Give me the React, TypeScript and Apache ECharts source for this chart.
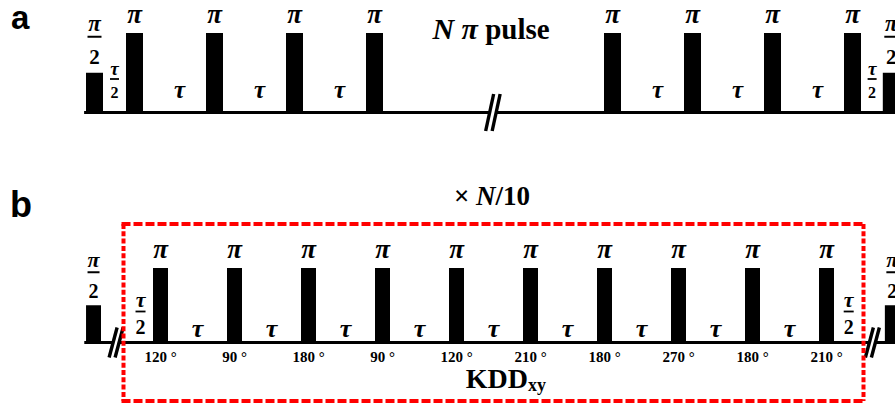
import { useEffect, useRef } from 'react';
import * as echarts from 'echarts';

// ---- (a) N π-pulse train, times in units of τ ----
const trainTimes = [0, 0.5, 1.5, 2.5, 3.5, 6.475, 7.475, 8.475, 9.475, 9.96];
const trainAmps = [1, 2, 2, 2, 2, 2, 2, 2, 2, 1]; // 1 = π/2 pulse, 2 = π pulse
const trainDelayTimes = [0.25, 1, 2, 3, 6.975, 7.975, 8.975, 9.72];
const trainDelayLabels = ['τ/2', 'τ', 'τ', 'τ', 'τ', 'τ', 'τ', 'τ/2'];
const trainBreaks = [4.98];
const trainSpan = [-0.13, 10.01];

// ---- (b) KDDxy block, repeated N/10 times ----
const kddTimes = [-0.905, 0, 1, 2, 3, 4, 5, 6, 7, 8, 9, 9.89];
const kddAmps = [1, 2, 2, 2, 2, 2, 2, 2, 2, 2, 2, 1];
const kddPhases = [null, 120, 90, 180, 90, 120, 210, 180, 270, 180, 210, null];
const kddDelayTimes = [-0.27, 0.5, 1.5, 2.5, 3.5, 4.5, 5.5, 6.5, 7.5, 8.5, 9.3];
const kddDelayLabels = ['τ/2', 'τ', 'τ', 'τ', 'τ', 'τ', 'τ', 'τ', 'τ', 'τ', 'τ/2'];
const kddBreaks = [-0.6, 9.62];
const kddSpan = [-1.03, 10.0];
const kddBlock = [-0.5, 9.5];

const SERIF = '"Liberation Serif", "Times New Roman", serif';
const SANS = '"Liberation Sans", Arial, sans-serif';
const BLACK = '#000000';
const RED = '#ff0000';

type Style = {
  pulseW: number;
  piSize: number;
  piDy: number;
  frac: { piSize: number; piDy: number; lineDy: number; lineW: number; twoSize: number; twoDy: number };
  tauSize: number;
  tauDy: number;
  tauDx: number;
  halfTau: { tauSize: number; tauDy: number; lineDy: number; lineW: number; twoSize: number; twoDy: number };
  brk: { h: number; dx: number; sep: number };
};

const styleA: Style = {
  pulseW: 17,
  piSize: 27,
  piDy: -19,
  frac: { piSize: 23, piDy: -49, lineDy: -36, lineW: 14, twoSize: 21, twoDy: -16 },
  tauSize: 25,
  tauDy: -23,
  tauDx: 5,
  halfTau: { tauSize: 19, tauDy: -44, lineDy: -33.5, lineW: 9, twoSize: 16, twoDy: -20.5 },
  brk: { h: 18.5, dx: 8, sep: 6.5 },
};

const styleB: Style = {
  pulseW: 15,
  piSize: 27,
  piDy: -19,
  frac: { piSize: 22, piDy: -46, lineDy: -33, lineW: 12, twoSize: 20, twoDy: -14 },
  tauSize: 26,
  tauDy: -14,
  tauDx: 0,
  halfTau: { tauSize: 22, tauDy: -43, lineDy: -31, lineW: 10, twoSize: 20, twoDy: -16 },
  brk: { h: 15, dx: 8, sep: 6 },
};

const txt = (x: number, y: number, text: string, size: number, italic: boolean, align = 'center') => ({
  type: 'text',
  style: {
    text,
    x,
    y,
    fill: BLACK,
    font: `${italic ? 'italic ' : ''}bold ${size}px ${SERIF}`,
    align,
    verticalAlign: 'middle',
  },
});

const hline = (cx: number, y: number, w: number, lw = 1.6) => ({
  type: 'line',
  shape: { x1: cx - w / 2, y1: y, x2: cx + w / 2, y2: y },
  style: { stroke: BLACK, lineWidth: lw },
});

function makeBaseline() {
  return (_p: any, api: any) => {
    const a = api.coord([api.value(0), 0]);
    const b = api.coord([api.value(1), 0]);
    return {
      type: 'line',
      shape: { x1: a[0], y1: a[1], x2: b[0], y2: b[1] },
      style: { stroke: BLACK, lineWidth: 3 },
    };
  };
}

function makeBreaks(s: Style) {
  return (_p: any, api: any) => {
    const c = api.coord([api.value(0), 0]);
    const { h, dx, sep } = s.brk;
    const slash = (cx: number) => ({
      type: 'line',
      shape: { x1: cx - dx / 2, y1: c[1] + h, x2: cx + dx / 2, y2: c[1] - h },
      style: { stroke: BLACK, lineWidth: 3.4 },
    });
    return {
      type: 'group',
      children: [
        { type: 'rect', shape: { x: c[0] - sep / 2, y: c[1] - 2.5, width: sep, height: 5 }, style: { fill: '#ffffff' } },
        slash(c[0] - sep / 2),
        slash(c[0] + sep / 2),
      ],
    };
  };
}

function makePulses(s: Style, phases?: (number | null)[]) {
  return (p: any, api: any) => {
    const t = api.value(0);
    const amp = api.value(1);
    const base = api.coord([t, 0]);
    const top = api.coord([t, amp]);
    const cx = base[0];
    const children: any[] = [
      { type: 'rect', shape: { x: cx - s.pulseW / 2, y: top[1], width: s.pulseW, height: base[1] - top[1] }, style: { fill: BLACK } },
    ];
    if (amp >= 2) {
      children.push(txt(cx, top[1] + s.piDy, 'π', s.piSize, true));
    } else {
      const f = s.frac;
      children.push(txt(cx, top[1] + f.piDy, 'π', f.piSize, true));
      children.push(hline(cx, top[1] + f.lineDy, f.lineW, 2));
      children.push(txt(cx, top[1] + f.twoDy, '2', f.twoSize, false));
    }
    const ph = phases ? phases[p.dataIndex] : null;
    if (ph != null) {
      children.push({
        type: 'text',
        style: {
          text: `${ph} °`,
          x: cx,
          y: base[1] + 14.5,
          fill: BLACK,
          font: `bold 15px ${SERIF}`,
          align: 'center',
          verticalAlign: 'middle',
        },
      });
    }
    return { type: 'group', children };
  };
}

function makeDelays(s: Style, labels: string[]) {
  return (p: any, api: any) => {
    const c = api.coord([api.value(0), 0]);
    const label = labels[p.dataIndex];
    if (label === 'τ') {
      return txt(c[0] + s.tauDx, c[1] + s.tauDy, 'τ', s.tauSize, true);
    }
    const h = s.halfTau;
    return {
      type: 'group',
      children: [
        txt(c[0], c[1] + h.tauDy, 'τ', h.tauSize, true),
        hline(c[0], c[1] + h.lineDy, h.lineW, 1.8),
        txt(c[0], c[1] + h.twoDy, '2', h.twoSize, false),
      ],
    };
  };
}

function makeBlock() {
  return (_p: any, api: any) => {
    const l = api.coord([api.value(0), 0]);
    const r = api.coord([api.value(1), 0]);
    const top = l[1] - 118.5;
    const bottom = l[1] + 58.5;
    const h = { stroke: RED, lineWidth: 4, lineDash: [9, 3] };
    const v = { stroke: RED, lineWidth: 4, lineDash: [5, 2.3] };
    return {
      type: 'group',
      children: [
        { type: 'line', shape: { x1: l[0] - 2, y1: top, x2: r[0] + 2, y2: top }, style: h },
        { type: 'line', shape: { x1: l[0] - 2, y1: bottom, x2: r[0] + 2, y2: bottom }, style: h },
        { type: 'line', shape: { x1: l[0], y1: top, x2: l[0], y2: bottom }, style: v },
        { type: 'line', shape: { x1: r[0], y1: top, x2: r[0], y2: bottom }, style: v },
      ],
    };
  };
}

const custom = (name: string, axis: number, data: any[], renderItem: any, z: number) => ({
  type: 'custom',
  name,
  xAxisIndex: axis,
  yAxisIndex: axis,
  data,
  renderItem,
  clip: false,
  silent: true,
  z,
});

export default function App() {
  const ref = useRef<HTMLDivElement>(null);

  useEffect(() => {
    if (!ref.current) return;
    const chart = echarts.init(ref.current, undefined, { renderer: 'svg' });
    chart.setOption({
      animation: false,
      backgroundColor: '#ffffff',
      grid: [
        { left: 94.5, right: 0.5, top: 33, height: 79.5 },
        { left: 160.5, width: 666, top: 268, height: 74.5 },
      ],
      xAxis: [
        { type: 'value', gridIndex: 0, min: 0, max: 10, show: false },
        { type: 'value', gridIndex: 1, min: 0, max: 9, show: false },
      ],
      yAxis: [
        { type: 'value', gridIndex: 0, min: 0, max: 2, show: false },
        { type: 'value', gridIndex: 1, min: 0, max: 2, show: false },
      ],
      series: [
        custom('train baseline', 0, [trainSpan], makeBaseline(), 1),
        custom('train pulses', 0, trainTimes.map((t, i) => [t, trainAmps[i]]), makePulses(styleA), 2),
        custom('train delays', 0, trainDelayTimes.map((t) => [t, 0]), makeDelays(styleA, trainDelayLabels), 2),
        custom('train breaks', 0, trainBreaks.map((t) => [t, 0]), makeBreaks(styleA), 3),

        custom('KDD baseline', 1, [kddSpan], makeBaseline(), 1),
        custom('KDD pulses', 1, kddTimes.map((t, i) => [t, kddAmps[i]]), makePulses(styleB, kddPhases), 2),
        custom('KDD delays', 1, kddDelayTimes.map((t) => [t, 0]), makeDelays(styleB, kddDelayLabels), 2),
        custom('KDD breaks', 1, kddBreaks.map((t) => [t, 0]), makeBreaks(styleB), 3),
        custom('KDD block', 1, [kddBlock], makeBlock(), 4),
      ],
      graphic: [
        { type: 'text', x: 11, y: 17, style: { text: 'a', font: `bold 33px ${SANS}`, fill: BLACK, align: 'left', verticalAlign: 'middle' } },
        { type: 'text', x: 10, y: 204.5, style: { text: 'b', font: `bold 36px ${SANS}`, fill: BLACK, align: 'left', verticalAlign: 'middle' } },
        {
          type: 'text',
          x: 491,
          y: 28.5,
          style: {
            text: '{i|N π} {r|pulse}',
            align: 'center',
            verticalAlign: 'middle',
            rich: {
              i: { fontFamily: SERIF, fontSize: 30, fontWeight: 'bold', fontStyle: 'italic', fill: BLACK },
              r: { fontFamily: SERIF, fontSize: 29, fontWeight: 'bold', fill: BLACK },
            },
            font: `bold 29px ${SERIF}`,
          },
        },
        {
          type: 'text',
          x: 492,
          y: 196,
          style: {
            text: '{r|× }{i|N}{r|/10}',
            align: 'center',
            verticalAlign: 'middle',
            rich: {
              i: { fontFamily: SERIF, fontSize: 27, fontWeight: 'bold', fontStyle: 'italic', fill: BLACK },
              r: { fontFamily: SERIF, fontSize: 27, fontWeight: 'bold', fill: BLACK },
            },
            font: `bold 27px ${SERIF}`,
          },
        },
        { type: 'text', x: 528, y: 378.5, style: { text: 'KDD', font: `bold 28px ${SERIF}`, fill: BLACK, align: 'right', verticalAlign: 'middle' } },
        { type: 'text', x: 528, y: 385, style: { text: 'xy', font: `bold 18px ${SERIF}`, fill: BLACK, align: 'left', verticalAlign: 'middle' } },
      ],
    });
    return () => chart.dispose();
  }, []);

  return (
    <div
      ref={ref}
      style={{ position: 'fixed', left: 0, top: 0, width: 895, height: 407, background: '#ffffff' }}
    />
  );
}
